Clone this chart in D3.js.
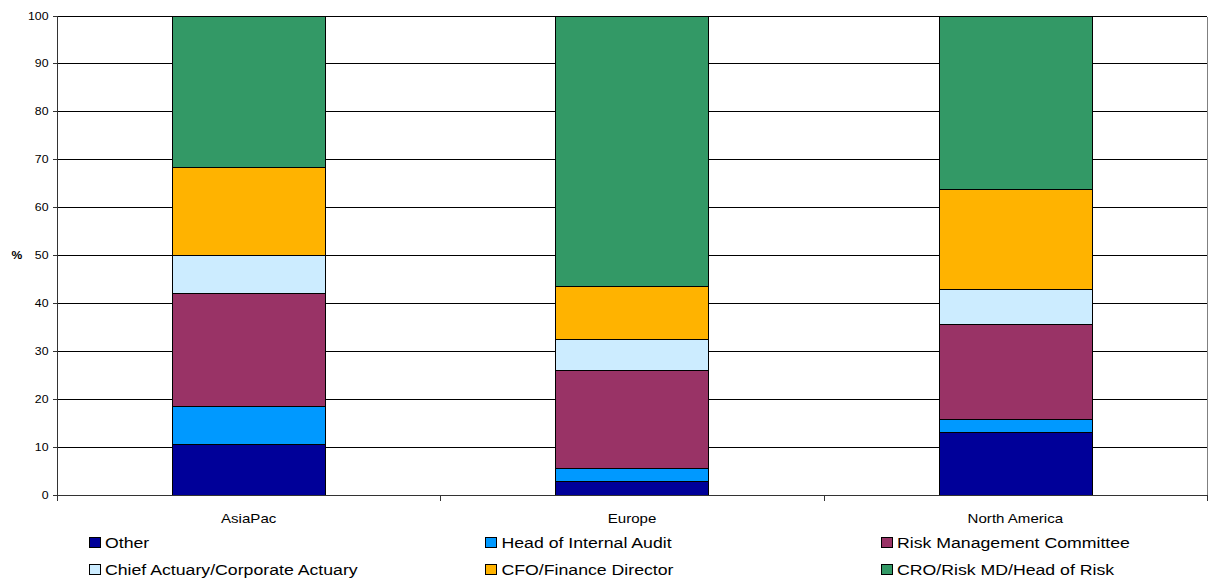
<!DOCTYPE html>
<html>
<head>
<meta charset="utf-8">
<script src="https://cdn.jsdelivr.net/npm/d3@7"></script>
<style>
  html, body { margin: 0; padding: 0; background: #fff; }
  svg { display: block; }
  text { font-family: Arial, "Liberation Sans", sans-serif; fill: #000; }
</style>
</head>
<body>
<svg id="chart" width="1214" height="578"></svg>
<script>
// Regions shown along the x axis
const regions = ["AsiaPac", "Europe", "North America"];

// Stack layers, bottom to top
const roles = [
  "Other",
  "Head of Internal Audit",
  "Risk Management Committee",
  "Chief Actuary/Corporate Actuary",
  "CFO/Finance Director",
  "CRO/Risk MD/Head of Risk"
];

// Share of respondents (%) per role, one value per region
const other         = [10.5, 2.8, 13.0];
const internalAudit = [7.9, 2.7, 2.7];
const riskCommittee = [23.7, 20.5, 19.9];
const chiefActuary  = [7.9, 6.4, 7.3];
const cfo           = [18.4, 11.1, 20.8];
const cro           = [31.6, 56.5, 36.3];

const yTicks = [0, 10, 20, 30, 40, 50, 60, 70, 80, 90, 100];

const colors = ["#000099", "#0099FF", "#993366", "#CCECFF", "#FFB300", "#339966"];

const seriesValues = [other, internalAudit, riskCommittee, chiefActuary, cfo, cro];
const rows = regions.map((r, i) => {
  const row = { region: r };
  roles.forEach((k, j) => { row[k] = seriesValues[j][i]; });
  return row;
});

const svg = d3.select("#chart");
const plotLeft = 57, plotRight = 1207, plotTop = 15.5, plotBottom = 494.5;

const x = d3.scaleBand().domain(regions).range([plotLeft, plotRight]).padding(0);
const y = d3.scaleLinear().domain([0, 100]).range([plotBottom, plotTop]);
const barFrac = 0.4;
const py = v => Math.round(y(v)) + 0.5;

// text with a slight horizontal stretch
function stretchText(sel, sx) {
  sel.each(function () {
    const t = d3.select(this);
    const tx = +t.attr("data-x"), ty = +t.attr("data-y");
    t.attr("transform", `translate(${tx},${ty}) scale(${sx},1)`);
  });
}

// gridlines
svg.append("g")
  .selectAll("line")
  .data(yTicks.filter(d => d > 0))
  .join("line")
  .attr("x1", plotLeft).attr("x2", plotRight)
  .attr("y1", d => py(d))
  .attr("y2", d => py(d))
  .attr("stroke", "#000")
  .attr("stroke-width", 1)
  .attr("shape-rendering", "crispEdges");

// right border of the plot area
svg.append("line")
  .attr("x1", plotRight + 0.5).attr("x2", plotRight + 0.5)
  .attr("y1", py(100)).attr("y2", py(0))
  .attr("stroke", "#808080")
  .attr("shape-rendering", "crispEdges");

// stacked bars
const stack = d3.stack().keys(roles)(rows);
const bw = x.bandwidth() * barFrac;
svg.append("g")
  .selectAll("g")
  .data(stack)
  .join("g")
  .attr("fill", (d, i) => colors[i])
  .selectAll("rect")
  .data(d => d)
  .join("rect")
  .attr("x", d => Math.round(x(d.data.region) + (x.bandwidth() - bw) / 2) + 0.5)
  .attr("width", Math.round(bw))
  .attr("y", d => py(d[1]))
  .attr("height", d => py(d[0]) - py(d[1]))
  .attr("stroke", "#000")
  .attr("stroke-width", 1)
  .attr("shape-rendering", "crispEdges");

// y axis
const yAxis = svg.append("g")
  .attr("transform", `translate(${plotLeft + 0.5},0)`)
  .call(d3.axisLeft(y).tickValues(yTicks).tickSize(5).tickPadding(4))
  .attr("shape-rendering", "crispEdges");
yAxis.select(".domain").attr("stroke", "#333").attr("d", `M0,${py(100)}V${py(0)}`);
yAxis.selectAll(".tick")
  .attr("transform", d => `translate(0,${py(d)})`);
yAxis.selectAll(".tick line").attr("stroke", "#333");
yAxis.selectAll(".tick text")
  .attr("font-size", "11px")
  .attr("font-family", "Arial, 'Liberation Sans', sans-serif")
  .attr("fill", "#000")
  .attr("data-x", -9).attr("data-y", 0)
  .attr("x", null).attr("dy", "0.34em")
  .call(stretchText, 1.12);

// x axis
const xAxis = svg.append("g")
  .attr("transform", `translate(0,${py(0)})`)
  .call(d3.axisBottom(x).tickSize(0).tickPadding(12))
  .attr("shape-rendering", "crispEdges");
xAxis.select(".domain").attr("stroke", "#333").attr("d", `M${plotLeft},0H${plotRight + 1}`);
xAxis.selectAll(".tick text")
  .attr("font-size", "13px")
  .attr("font-family", "Arial, 'Liberation Sans', sans-serif")
  .attr("fill", "#000")
  .attr("y", null).attr("dy", null)
  .attr("data-x", 0).attr("data-y", 27)
  .call(stretchText, 1.16);
// category separators
xAxis.append("g")
  .selectAll("line")
  .data([plotLeft, ...regions.map(r => x(r) + x.bandwidth())])
  .join("line")
  .attr("x1", d => Math.round(d) + 0.5).attr("x2", d => Math.round(d) + 0.5)
  .attr("y1", 0).attr("y2", 5)
  .attr("stroke", "#333");

// axis title
svg.append("text")
  .attr("data-x", 17).attr("data-y", 259)
  .attr("text-anchor", "middle")
  .attr("font-size", "11px")
  .attr("font-weight", "bold")
  .text("%")
  .call(stretchText, 1.1);

// legend: three columns, two rows
const legendCols = [88.5, 485, 880.5];
const legendRows = [548, 575];
const legend = svg.append("g")
  .selectAll("g")
  .data(roles)
  .join("g");
legend.append("rect")
  .attr("x", (d, i) => legendCols[i % 3] + 0.5)
  .attr("y", (d, i) => legendRows[Math.floor(i / 3)] - 10.5)
  .attr("width", 11).attr("height", 10)
  .attr("fill", (d, i) => colors[i])
  .attr("stroke", "#000")
  .attr("shape-rendering", "crispEdges");
legend.append("text")
  .attr("data-x", (d, i) => legendCols[i % 3] + 16.5)
  .attr("data-y", (d, i) => legendRows[Math.floor(i / 3)])
  .attr("font-size", "15px")
  .text(d => d)
  .call(stretchText, 1.18);
</script>
</body>
</html>
